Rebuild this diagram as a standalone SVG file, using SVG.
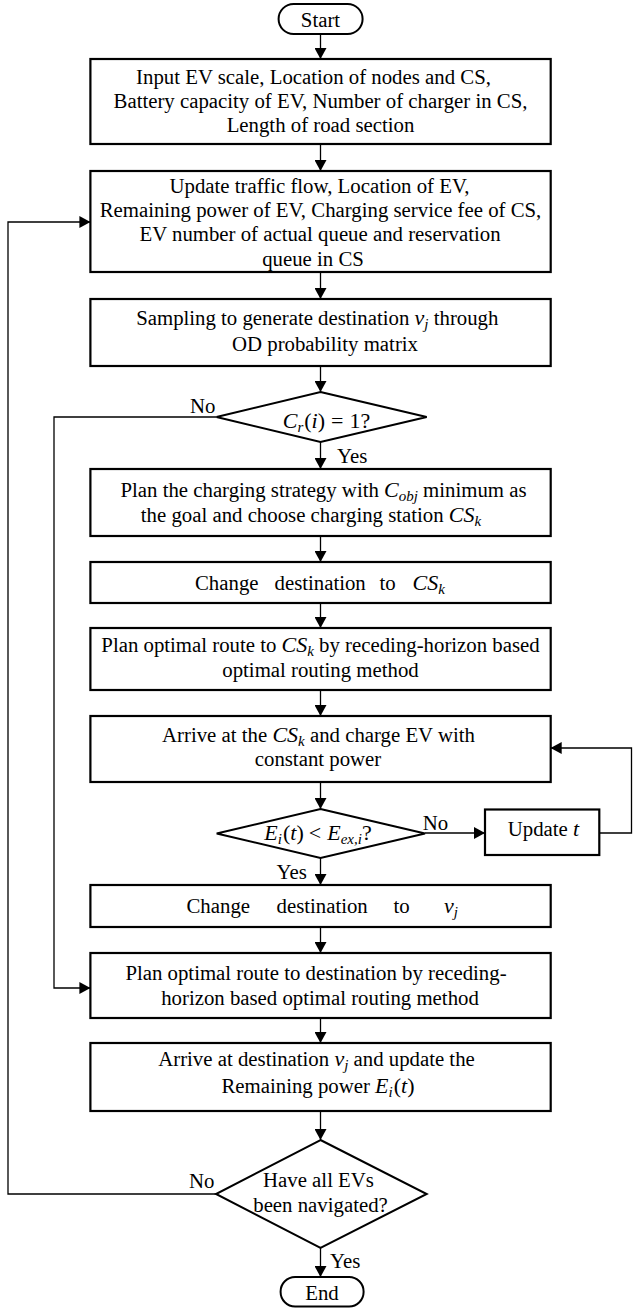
<svg xmlns="http://www.w3.org/2000/svg" width="633" height="1309" viewBox="0 0 633 1309">
  <style>
    .box { fill: #fff; stroke: #000; stroke-width: 2.2; }
    .term { fill: #fff; stroke: #000; stroke-width: 2; }
    .dia { fill: #fff; stroke: #000; stroke-width: 2; }
    .con { fill: none; stroke: #000; stroke-width: 1.3; }
    .t { font-family: "Liberation Serif", "Times New Roman", serif; font-size: 20.8px; fill: #000; }
    .c { text-anchor: middle; }
    .mi { font-style: italic; font-size: 22px; }
    .ms { font-style: italic; font-size: 15px; }
    .mu { font-size: 22px; }
  </style>
  <defs>
    <marker id="ah" viewBox="0 0 11 12" refX="11" refY="6" markerWidth="11" markerHeight="12" orient="auto" markerUnits="userSpaceOnUse">
      <path d="M0,0 L11,6 L0,12 z" fill="#000"/>
    </marker>
  </defs>
  <rect width="633" height="1309" fill="#fff"/>

  <!-- connectors -->
  <g id="connectors">
    <path class="con" d="M320.5,34 V59" marker-end="url(#ah)"/>
    <path class="con" d="M320.5,144 V171" marker-end="url(#ah)"/>
    <path class="con" d="M320.5,272 V299" marker-end="url(#ah)"/>
    <path class="con" d="M320.5,366 V392" marker-end="url(#ah)"/>
    <path class="con" d="M320.5,442 V469" marker-end="url(#ah)"/>
    <path class="con" d="M320.5,536 V562" marker-end="url(#ah)"/>
    <path class="con" d="M320.5,603 V628" marker-end="url(#ah)"/>
    <path class="con" d="M320.5,690 V716" marker-end="url(#ah)"/>
    <path class="con" d="M320.5,782 V809" marker-end="url(#ah)"/>
    <path class="con" d="M425,833 H485" marker-end="url(#ah)"/>
    <path class="con" d="M599.3,833 H631.5 V748 H550.7" marker-end="url(#ah)"/>
    <path class="con" d="M320.5,858 V885" marker-end="url(#ah)"/>
    <path class="con" d="M320.5,927 V953" marker-end="url(#ah)"/>
    <path class="con" d="M216.5,417 H54 V988 H90.4" marker-end="url(#ah)"/>
    <path class="con" d="M320.5,1018 V1043" marker-end="url(#ah)"/>
    <path class="con" d="M320.5,1111 V1140" marker-end="url(#ah)"/>
    <path class="con" d="M216,1194 H8 V222 H90.4" marker-end="url(#ah)"/>
    <path class="con" d="M320.5,1248 V1277" marker-end="url(#ah)"/>
  </g>

  <!-- edge labels -->
  <g id="labels">
    <text class="t" x="190" y="413">No</text>
    <text class="t" x="337" y="463">Yes</text>
    <text class="t" x="422.7" y="829.5">No</text>
    <text class="t" x="276.5" y="879">Yes</text>
    <text class="t" x="189" y="1188">No</text>
    <text class="t" x="330" y="1268">Yes</text>
  </g>

  <g id="start">
    <rect class="term" x="278.6" y="4" width="84" height="30" rx="15"/>
    <text class="t c" x="320.5" y="27">Start</text>
  </g>

  <g id="input">
    <rect class="box" x="90.4" y="59" width="460.3" height="85"/>
    <text class="t c" x="313.5" y="83.5">Input EV scale, Location of nodes and CS,</text>
    <text class="t c" x="320.5" y="107.5">Battery capacity of EV, Number of charger in CS,</text>
    <text class="t c" x="320.5" y="131.5">Length of road section</text>
  </g>

  <g id="update">
    <rect class="box" x="90.4" y="171" width="460.3" height="101"/>
    <text class="t c" x="319.5" y="193">Update traffic flow, Location of EV,</text>
    <text class="t c" x="320.5" y="217">Remaining power of EV, Charging service fee of CS,</text>
    <text class="t c" x="320" y="241">EV number of actual queue and reservation</text>
    <text class="t c" x="313" y="266">queue in CS</text>
  </g>

  <g id="sampling">
    <rect class="box" x="90.4" y="299" width="460.3" height="67"/>
    <text class="t c" x="317.3" y="325">Sampling to generate destination <tspan class="mi">v</tspan><tspan class="ms" dy="4">j</tspan><tspan dy="-4"> through</tspan></text>
    <text class="t c" x="325" y="351">OD probability matrix</text>
  </g>

  <g id="check-reserve">
    <polygon class="dia" points="320.5,392 426.7,417 320.5,442 216.5,417"/>
    <text class="t c" x="326.5" y="428"><tspan class="mi">C</tspan><tspan class="ms" dy="4">r</tspan><tspan class="mu" dy="-4" dx="1">(</tspan><tspan class="mi">i</tspan><tspan class="mu">)</tspan><tspan class="mu" dx="6">=</tspan><tspan class="mu" dx="6">1?</tspan></text>
  </g>

  <g id="plan-charging">
    <rect class="box" x="90.4" y="469" width="460.3" height="67"/>
    <text class="t c" x="323.5" y="496.5">Plan the charging strategy with <tspan class="mi">C</tspan><tspan class="ms" dy="4">obj</tspan><tspan dy="-4"> minimum as</tspan></text>
    <text class="t c" x="311" y="521.5">the goal and choose charging station <tspan class="mi">CS</tspan><tspan class="ms" dy="4">k</tspan></text>
  </g>

  <g id="to-station">
    <rect class="box" x="90.4" y="562" width="460.3" height="41"/>
    <text class="t" x="195" y="590">Change</text>
    <text class="t" x="274.5" y="590">destination</text>
    <text class="t" x="379.5" y="590">to</text>
    <text class="t" x="412.5" y="590"><tspan class="mi">CS</tspan><tspan class="ms" dy="4">k</tspan></text>
  </g>

  <g id="route-station">
    <rect class="box" x="90.4" y="628" width="460.3" height="62"/>
    <text class="t c" x="320.5" y="651.5">Plan optimal route to <tspan class="mi">CS</tspan><tspan class="ms" dy="4">k</tspan><tspan dy="-4"> by receding-horizon based</tspan></text>
    <text class="t c" x="320.5" y="676.5">optimal routing method</text>
  </g>

  <g id="charge">
    <rect class="box" x="90.4" y="716" width="460.3" height="66"/>
    <text class="t c" x="318.5" y="741.5">Arrive at the <tspan class="mi">CS</tspan><tspan class="ms" dy="4">k</tspan><tspan dy="-4"> and charge EV with</tspan></text>
    <text class="t c" x="318" y="766">constant power</text>
  </g>

  <g id="check-energy">
    <polygon class="dia" points="320.5,809 425,833.5 320.5,858 216.7,833.5"/>
    <text class="t c" x="318" y="840"><tspan class="mi">E</tspan><tspan class="ms" dy="4">i</tspan><tspan class="mu" dy="-4" dx="1">(</tspan><tspan class="mi">t</tspan><tspan class="mu">)</tspan><tspan class="mu" dx="5">&lt;</tspan><tspan class="mi" dx="6">E</tspan><tspan class="ms" dy="4">ex,i</tspan><tspan class="mu" dy="-4">?</tspan></text>
  </g>

  <g id="update-t">
    <rect class="box" x="485" y="809.5" width="114.3" height="45.5"/>
    <text class="t c" x="543.5" y="836">Update <tspan class="mi">t</tspan></text>
  </g>

  <g id="to-destination">
    <rect class="box" x="90.4" y="885" width="460.3" height="42"/>
    <text class="t" x="186.5" y="913">Change</text>
    <text class="t" x="276.5" y="913">destination</text>
    <text class="t" x="393.6" y="913">to</text>
    <text class="t" x="444" y="913"><tspan class="mi">v</tspan><tspan class="ms" dy="4">j</tspan></text>
  </g>

  <g id="route-destination">
    <rect class="box" x="90.4" y="953" width="460.3" height="65"/>
    <text class="t c" x="316" y="980">Plan optimal route to destination by receding-</text>
    <text class="t c" x="320" y="1005">horizon based optimal routing method</text>
  </g>

  <g id="arrive">
    <rect class="box" x="90.4" y="1043" width="460.3" height="68"/>
    <text class="t c" x="316.5" y="1065.5">Arrive at destination <tspan class="mi">v</tspan><tspan class="ms" dy="4">j</tspan><tspan dy="-4"> and update the</tspan></text>
    <text class="t c" x="318" y="1093">Remaining power <tspan class="mi">E</tspan><tspan class="ms" dy="4">i</tspan><tspan class="mu" dy="-4" dx="1">(</tspan><tspan class="mi">t</tspan><tspan class="mu">)</tspan></text>
  </g>

  <g id="check-all">
    <polygon class="dia" points="320.5,1140 426.7,1194 320.5,1248 216,1194"/>
    <text class="t c" x="318.5" y="1187">Have all EVs</text>
    <text class="t c" x="320.5" y="1212">been navigated?</text>
  </g>

  <g id="end">
    <rect class="term" x="280.6" y="1277" width="83" height="29.5" rx="14.5"/>
    <text class="t c" x="322" y="1299.5">End</text>
  </g>
</svg>
